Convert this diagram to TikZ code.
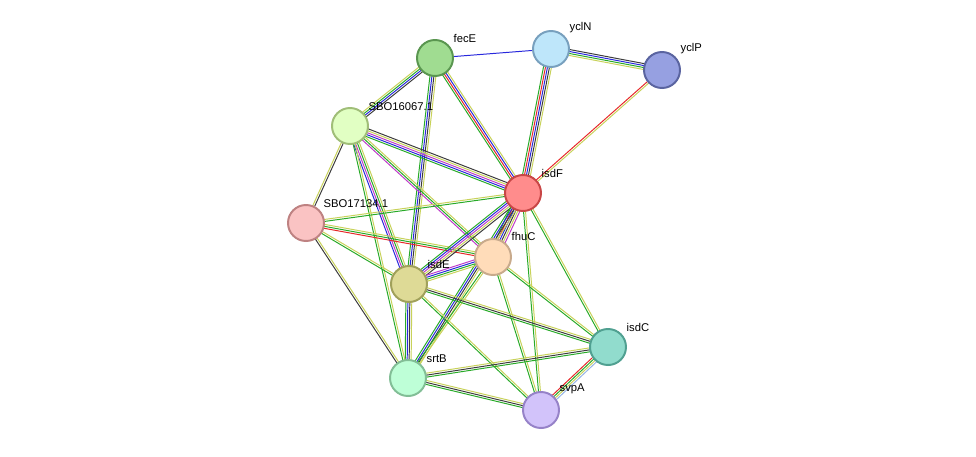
\documentclass[tikz,border=0pt]{standalone}
\usepackage{fontspec}
\setmainfont{Liberation Sans}
\usetikzlibrary{calc}
\definecolor{tmine}{RGB}{200,210,90}
\definecolor{nbhd}{RGB}{40,170,40}
\definecolor{cooc}{RGB}{40,40,220}
\definecolor{fus}{RGB}{230,40,40}
\definecolor{coex}{RGB}{60,60,60}
\definecolor{expt}{RGB}{190,60,200}
\definecolor{dbase}{RGB}{150,180,230}
\tikzset{
  prot/.style={circle,draw,line width=1.4pt,minimum size=0.9cm,inner sep=0pt},
  lbl/.style={font=\fontsize{8}{9}\selectfont,anchor=south west,inner sep=1pt}
}
\newcommand{\edge}[3]{%
  \foreach \col [count=\i] in {#3} {
    \pgfmathsetmacro{\off}{(\i-1)*1.4-0.7*(\n-1)}
    \draw[\col,line width=0.7pt] ($(#1)!\off pt!90:(#2)$) -- ($(#2)!\off pt!-90:(#1)$);
  }}
\begin{document}
\begin{tikzpicture}[x=0.025cm,y=-0.025cm]
\useasboundingbox (0,0) rectangle (976,456);
\coordinate (fecE) at (435,58);
\coordinate (yclN) at (551,49);
\coordinate (yclP) at (662,70);
\coordinate (sboA) at (350,126);
\coordinate (isdF) at (523,193);
\coordinate (sboB) at (306,223);
\coordinate (fhuC) at (493,257);
\coordinate (isdE) at (409,284);
\coordinate (isdC) at (608,347);
\coordinate (srtB) at (408,378);
\coordinate (svpA) at (541,410);
% edges
\def\n{1}\edge{fecE}{yclN}{cooc}
\def\n{4}\edge{yclN}{yclP}{tmine,nbhd,cooc,coex}
\def\n{5}\edge{yclN}{isdF}{nbhd,fus,cooc,coex,tmine}
\def\n{2}\edge{yclP}{isdF}{fus,tmine}
\def\n{4}\edge{fecE}{sboA}{tmine,nbhd,cooc,coex}
\def\n{4}\edge{fecE}{isdF}{nbhd,fus,cooc,tmine}
\def\n{4}\edge{fecE}{isdE}{nbhd,cooc,coex,tmine}
\def\n{5}\edge{sboA}{isdF}{nbhd,cooc,expt,tmine,coex}
\def\n{3}\edge{sboA}{fhuC}{expt,nbhd,tmine}
\def\n{2}\edge{sboA}{sboB}{tmine,coex}
\def\n{4}\edge{sboA}{isdE}{cooc,expt,nbhd,tmine}
\def\n{2}\edge{sboA}{srtB}{nbhd,tmine}
\def\n{2}\edge{sboB}{isdF}{nbhd,tmine}
\def\n{3}\edge{sboB}{fhuC}{fus,nbhd,tmine}
\def\n{2}\edge{sboB}{isdE}{nbhd,tmine}
\def\n{2}\edge{sboB}{srtB}{coex,tmine}
\def\n{6}\edge{isdF}{fhuC}{nbhd,fus,cooc,coex,tmine,expt}
\def\n{5}\edge{isdF}{isdE}{nbhd,cooc,expt,tmine,coex}
\def\n{4}\edge{isdF}{srtB}{nbhd,cooc,coex,tmine}
\def\n{2}\edge{isdF}{svpA}{nbhd,tmine}
\def\n{2}\edge{isdF}{isdC}{nbhd,tmine}
\def\n{4}\edge{fhuC}{isdE}{expt,cooc,nbhd,tmine}
\def\n{2}\edge{fhuC}{srtB}{nbhd,tmine}
\def\n{2}\edge{fhuC}{svpA}{nbhd,tmine}
\def\n{2}\edge{fhuC}{isdC}{nbhd,tmine}
\def\n{4}\edge{isdE}{srtB}{nbhd,cooc,coex,tmine}
\def\n{3}\edge{isdE}{isdC}{nbhd,coex,tmine}
\def\n{2}\edge{isdE}{svpA}{nbhd,tmine}
\def\n{3}\edge{srtB}{isdC}{nbhd,coex,tmine}
\def\n{3}\edge{srtB}{svpA}{nbhd,coex,tmine}
\def\n{4}\edge{isdC}{svpA}{fus,nbhd,tmine,dbase}
% proteins
\node[prot,draw={rgb,255:red,90;green,150;blue,80},fill={rgb,255:red,160;green,220;blue,145}] (nfecE) at (fecE) {};
\node[prot,draw={rgb,255:red,120;green,160;blue,190},fill={rgb,255:red,190;green,230;blue,250}] (nyclN) at (yclN) {};
\node[prot,draw={rgb,255:red,90;green,100;blue,160},fill={rgb,255:red,150;green,160;blue,225}] (nyclP) at (yclP) {};
\node[prot,draw={rgb,255:red,160;green,190;blue,120},fill={rgb,255:red,225;green,255;blue,195}] (nsboA) at (sboA) {};
\node[prot,draw={rgb,255:red,200;green,70;blue,70},fill={rgb,255:red,255;green,140;blue,140}] (nisdF) at (isdF) {};
\node[prot,draw={rgb,255:red,190;green,130;blue,130},fill={rgb,255:red,250;green,195;blue,195}] (nsboB) at (sboB) {};
\node[prot,draw={rgb,255:red,200;green,170;blue,140},fill={rgb,255:red,255;green,220;blue,185}] (nfhuC) at (fhuC) {};
\node[prot,draw={rgb,255:red,160;green,160;blue,90},fill={rgb,255:red,222;green,218;blue,150}] (nisdE) at (isdE) {};
\node[prot,draw={rgb,255:red,80;green,160;blue,145},fill={rgb,255:red,145;green,220;blue,205}] (nisdC) at (isdC) {};
\node[prot,draw={rgb,255:red,130;green,190;blue,150},fill={rgb,255:red,190;green,255;blue,215}] (nsrtB) at (srtB) {};
\node[prot,draw={rgb,255:red,150;green,130;blue,200},fill={rgb,255:red,210;green,195;blue,250}] (nsvpA) at (svpA) {};
% labels
\node[lbl] (tfecE) at (452,44) {fecE};
\node[lbl] (tyclN) at (568,35) {yclN};
\node[lbl] (tyclP) at (679,56) {yclP};
\node[lbl] (tsboA) at (367,112) {SBO16067.1};
\node[lbl] (tisdF) at (540,179) {isdF};
\node[lbl] (tsboB) at (322,209) {SBO17134.1};
\node[lbl] (tfhuC) at (510,242) {fhuC};
\node[lbl] (tisdE) at (426,270) {isdE};
\node[lbl] (tisdC) at (625,333) {isdC};
\node[lbl] (tsrtB) at (425,364) {srtB};
\node[lbl] (tsvpA) at (558,396) {svpA};
\end{tikzpicture}
\end{document}
